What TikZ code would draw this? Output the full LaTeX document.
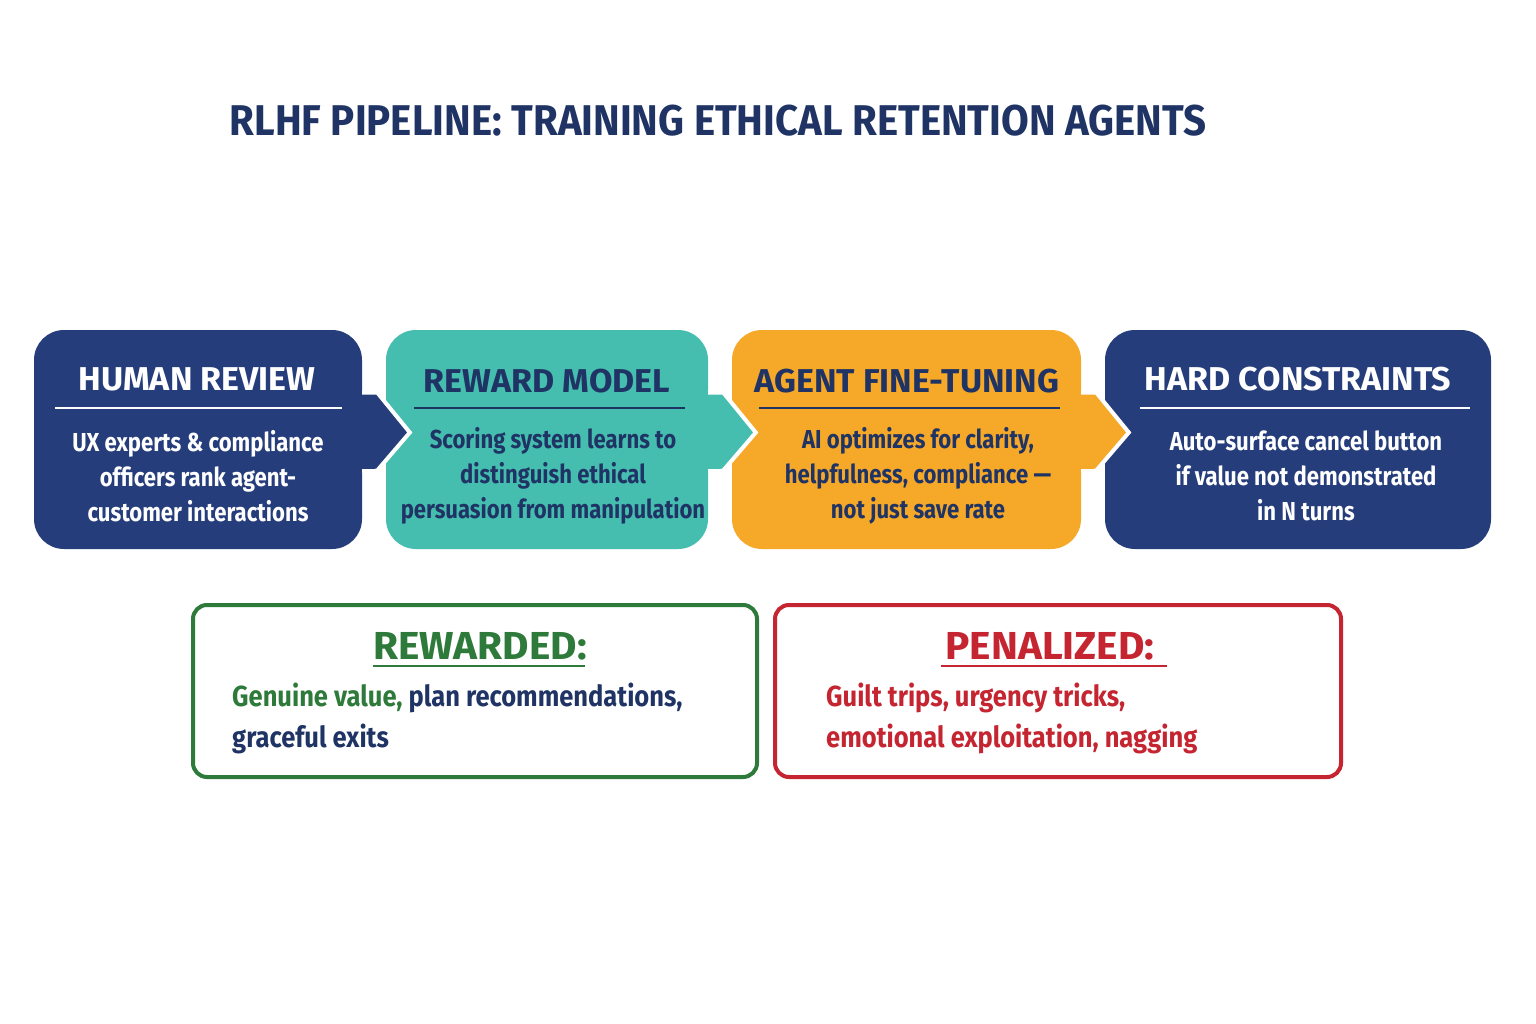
\documentclass[tikz,border=0pt]{standalone}
\usepackage{fontspec}
\usetikzlibrary{calc}
\newfontfamily\titlefont[FakeStretch=0.935]{Fira Sans Bold}
\newfontfamily\headfont[FakeStretch=1.03]{Fira Sans Bold}
\newfontfamily\outheadfont[FakeStretch=1.04]{Fira Sans Bold}
\newfontfamily\bodyfont[FakeStretch=0.85]{Fira Sans Bold}
\newfontfamily\outbodyfont[FakeStretch=0.88]{Fira Sans Bold}
\definecolor{navy}{RGB}{38,61,124}
\definecolor{ink}{RGB}{31,52,100}
\definecolor{teal}{RGB}{69,190,176}
\definecolor{orng}{RGB}{246,169,40}
\definecolor{grn}{RGB}{46,122,58}
\definecolor{rd}{RGB}{196,37,48}
\tikzset{
  stagebox/.style={rounded corners=30pt, minimum height=219pt, inner sep=0pt, draw=none},
  headtxt/.style={font=\headfont\fontsize{33}{38}\selectfont, inner sep=0pt},
  bodytxt/.style={font=\bodyfont\fontsize{26}{35}\selectfont, align=center, inner sep=0pt},
  sepline/.style={line width=1.3pt},
  outbox/.style={rounded corners=14pt, line width=4pt, fill=white, inner sep=0pt, minimum height=172pt},
  outhead/.style={font=\outheadfont\fontsize{39}{42}\selectfont, inner sep=0pt},
  outbody/.style={font=\outbodyfont\fontsize{29}{41}\selectfont, align=left, inner sep=0pt},
}
\begin{document}
\begin{tikzpicture}[x=1pt,y=-1pt]
\useasboundingbox[fill=white] (0,0) rectangle (1536,1024);
\node[font=\titlefont\fontsize{43}{48}\selectfont, text=ink, inner sep=0pt] (title) at (718,121) {RLHF PIPELINE: TRAINING ETHICAL RETENTION AGENTS};

% stage boxes
\node[stagebox, fill=teal, minimum width=322pt] (b2) at (547,439.5) {};
\node[stagebox, fill=orng, minimum width=349pt] (b3) at (906.5,439.5) {};
\node[stagebox, fill=navy, minimum width=386pt] (b4) at (1298,439.5) {};
\node[stagebox, fill=navy, minimum width=328pt] (b1) at (198,439.5) {};

% arrows
\foreach \a/\b/\c in {b1/b2/navy, b2/b3/teal, b3/b4/orng}{
  \fill[\c] ($(\a.east)+(-2,-47)$) -- ($(\a.east)+(15,-47)$) -- ($(\b.west)+(24,-7)$) -- ($(\a.east)+(15,31)$) -- ($(\a.east)+(-2,31)$) -- cycle;
  \draw[white, line width=4pt, line join=miter] ($(\a.east)+(0,-47)$) -- ($(\a.east)+(15,-47)$) -- ($(\b.west)+(24,-7)$) -- ($(\a.east)+(15,31)$) -- ($(\a.east)+(0,31)$);
  \fill[\c] ($(\a.east)+(-4,-45)$) rectangle ($(\a.east)+(13,29)$);
}

% box 1
\node[headtxt, text=white] (h1) at (197,379) {HUMAN REVIEW};
\draw[sepline, white] (55,408) -- (342,408);
\node[bodytxt, text=white] (t1) at (198,476) {UX experts \& compliance\\officers rank agent-\\customer interactions};
% box 2
\node[headtxt, text=ink] (h2) at (547,381) {REWARD MODEL};
\draw[sepline, ink] (414,408) -- (685,408);
\node[bodytxt, text=ink] (t2) at (553,476) {Scoring system learns to\\distinguish ethical\\persuasion from manipulation};
% box 3
\node[headtxt, text=ink] (h3) at (907,381) {AGENT FINE-TUNING};
\draw[sepline, ink] (759,408) -- (1060,408);
\node[bodytxt, text=ink] (t3) at (918,476) {AI optimizes for clarity,\\helpfulness, compliance —\\not just save rate};
% box 4
\node[headtxt, text=white] (h4) at (1298,379) {HARD CONSTRAINTS};
\draw[sepline, white] (1140,408) -- (1470,408);
\node[bodytxt, text=white] (t4) at (1306,476) {Auto-surface cancel button\\if value not demonstrated\\in N turns};

% outcome boxes
\node[outbox, draw=grn, minimum width=564pt] (rw) at (475,691) {};
\node[outhead, text=grn] (rwh) at (480,646) {REWARDED:};
\draw[grn, line width=2pt] (373,666) -- (585,666);
\node[outbody, anchor=north west] (rwt) at (232,683) {\textcolor{grn}{Genuine value,} \textcolor{ink}{plan recommendations,}\\\textcolor{ink}{graceful exits}};

\node[outbox, draw=rd, minimum width=566pt] (pn) at (1058,691) {};
\node[outhead, text=rd] (pnh) at (1050,646) {PENALIZED:};
\draw[rd, line width=2pt] (941,666) -- (1167,666);
\node[outbody, anchor=north west, text=rd] (pnt) at (826,683) {Guilt trips, urgency tricks,\\emotional exploitation, nagging};
\end{tikzpicture}
\end{document}
